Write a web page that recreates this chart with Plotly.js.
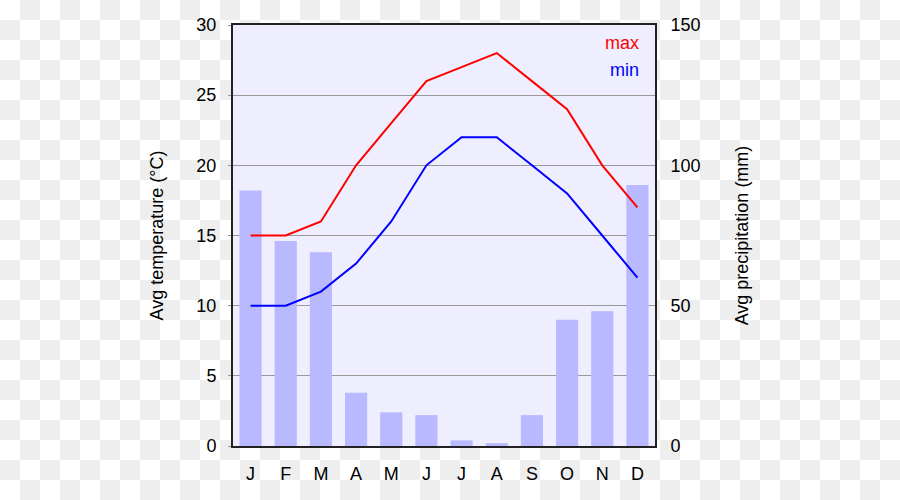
<!DOCTYPE html>
<html>
<head>
<meta charset="utf-8">
<script src="https://cdn.plot.ly/plotly-3.0.1.min.js"></script>
<style>
html, body { margin:0; padding:0; }
body {
  width:900px; height:500px;
  background-color:#fff;
  background-image: conic-gradient(#eeeeee 0 25%, #ffffff 0 50%, #eeeeee 0 75%, #ffffff 0);
  background-size:40px 40px;
}
#chart { width:900px; height:500px; }
</style>
</head>
<body>
<div id="chart"></div>
<script>
const months = ['Jan','Feb','Mar','Apr','May','Jun','Jul','Aug','Sep','Oct','Nov','Dec'];
const monthLabels = ['J','F','M','A','M','J','J','A','S','O','N','D'];
const tempMax = [15,15,16,20,23,26,27,28,26,24,20,17];
const tempMin = [10,10,11,13,16,20,22,22,20,18,15,12];
const precip = [91,73,69,19,12,11,2,1,11,45,48,93];

const FONT = 'Liberation Sans, Arial, sans-serif';

const traces = [
  {type:'bar', x:months, y:precip, yaxis:'y', marker:{color:'#b9b9ff'}, showlegend:false, hoverinfo:'skip'},
  {type:'scatter', mode:'lines', x:months, y:tempMax, yaxis:'y2', line:{color:'#ff0000', width:2}, name:'max', showlegend:false},
  {type:'scatter', mode:'lines', x:months, y:tempMin, yaxis:'y2', line:{color:'#0000ff', width:2}, name:'min', showlegend:false}
];

const layout = {
  width:900, height:500,
  margin:{l:233, r:245, t:25, b:54},
  paper_bgcolor:'rgba(0,0,0,0)',
  plot_bgcolor:'#eeeeff',
  font:{family:FONT, size:18, color:'#000'},
  bargap:0.37,
  xaxis:{
    type:'category', tickmode:'array', tickvals:months, ticktext:monthLabels,
    showline:true, linecolor:'#222', linewidth:2, mirror:true,
    showgrid:false, ticks:'', ticklabelstandoff:10, zeroline:false
  },
  yaxis:{
    side:'right', range:[0,150], tickvals:[0,50,100,150],
    showline:true, linecolor:'#222', linewidth:2,
    showgrid:false,
    ticks:'', ticklabelstandoff:10, zeroline:false,
    title:{text:'Avg precipitation (mm)', font:{size:18}, standoff:36}
  },
  yaxis2:{
    overlaying:'y', side:'left', range:[0,30], dtick:5,
    showline:true, linecolor:'#222', linewidth:2,
    showgrid:true, gridcolor:'#999', gridwidth:1,
    ticks:'outside', ticklen:3, tickcolor:'#999', tickwidth:1,
    ticklabelstandoff:8, zeroline:false,
    title:{text:'Avg temperature (°C)', font:{size:18}, standoff:28}
  },
  annotations:[
    {xref:'paper', yref:'paper', x:0.966, y:0.958, xanchor:'right', yanchor:'middle', text:'max', showarrow:false, font:{color:'#ff0000', size:18}},
    {xref:'paper', yref:'paper', x:0.966, y:0.894, xanchor:'right', yanchor:'middle', text:'min', showarrow:false, font:{color:'#0000ff', size:18}}
  ]
};

Plotly.newPlot('chart', traces, layout, {displayModeBar:false, staticPlot:true});
</script>
</body>
</html>
